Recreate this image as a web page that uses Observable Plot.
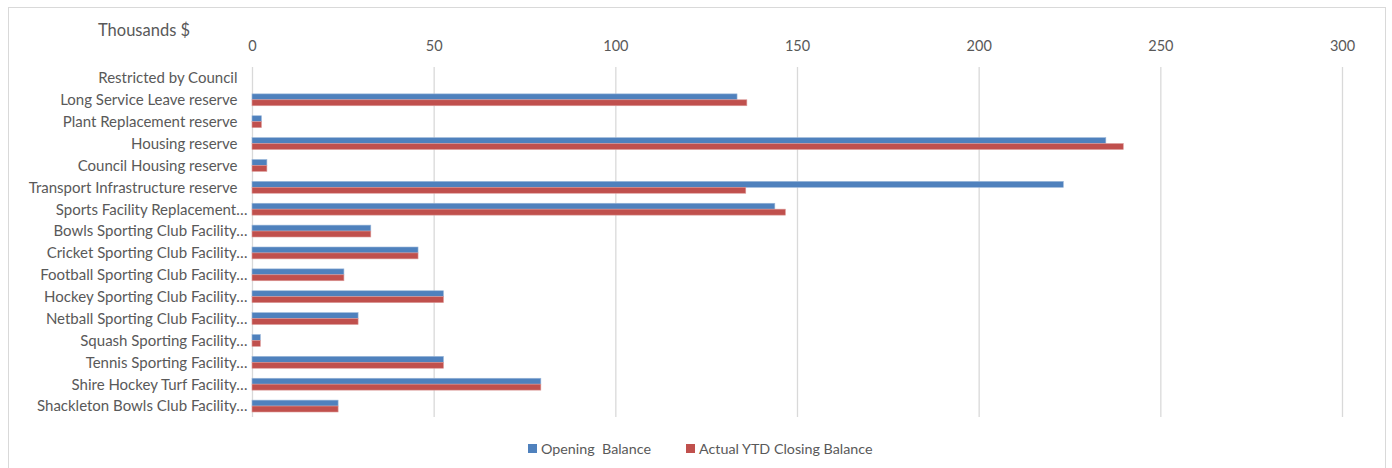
<!DOCTYPE html>
<html>
<head>
<meta charset="utf-8">
<script src="https://cdn.jsdelivr.net/npm/d3@7"></script>
<script src="https://cdn.jsdelivr.net/npm/@observablehq/plot@0.6"></script>
<style>
  html, body { margin: 0; padding: 0; background: #fff; }
  body { width: 1392px; height: 468px; position: relative; overflow: hidden; font-family: Lato, "Open Sans", sans-serif; }
  #frame { position: absolute; left: 8px; top: 7px; width: 1378px; height: 480px; border: 1px solid #d9d9d9; box-sizing: border-box; }
  #chart { position: absolute; left: 0; top: 0; }
  #unit { position: absolute; left: 98px; top: 20px; font-size: 16.5px; color: #595959; }
  #legend { position: absolute; top: 440px; left: 0; width: 1392px; font-size: 14.3px; color: #595959; white-space: pre; }
  .item { position: absolute; display: flex; align-items: center; }
  .sw { width: 9px; height: 9px; margin-right: 4px; }
</style>
</head>
<body>
<div id="frame"></div>
<div id="chart"></div>
<div id="unit">Thousands $</div>
<div id="legend"></div>
<script>
const categories = [
  "Restricted by Council",
  "Long Service Leave reserve",
  "Plant Replacement reserve",
  "Housing reserve",
  "Council Housing reserve",
  "Transport Infrastructure reserve",
  "Sports Facility Replacement…",
  "Bowls Sporting Club Facility…",
  "Cricket Sporting Club Facility…",
  "Football Sporting Club Facility…",
  "Hockey Sporting Club Facility…",
  "Netball Sporting Club Facility…",
  "Squash Sporting Facility…",
  "Tennis Sporting Facility…",
  "Shire Hockey Turf Facility…",
  "Shackleton Bowls Club Facility…"
];
const openingBalance = [null, 133.5, 2.6, 235.0, 4.1, 223.3, 143.9, 32.7, 45.7, 25.3, 52.7, 29.2, 2.3, 52.7, 79.5, 23.7];
const closingBalance = [null, 136.2, 2.6, 239.8, 4.1, 135.9, 146.8, 32.7, 45.7, 25.3, 52.7, 29.2, 2.3, 52.7, 79.5, 23.7];
const xTicks = [0, 50, 100, 150, 200, 250, 300];
const seriesNames = ["Opening  Balance", "Actual YTD Closing Balance"];
const seriesColors = ["#4f81bd", "#c0504d"];

const rows = categories.map((c, i) => ({cat: c, open: openingBalance[i], close: closingBalance[i]}));
const fullLabels = categories.filter(c => !c.endsWith("…"));
const cutLabels = categories.filter(c => c.endsWith("…"));

const chart = Plot.plot({
  width: 1392,
  height: 425,
  marginTop: 67,
  marginBottom: 8,
  marginLeft: 252,
  marginRight: 50,
  style: {fontFamily: "Lato, 'Open Sans', sans-serif", fontSize: "15px", color: "#595959", background: "transparent"},
  x: {domain: [0, 300], axis: null},
  y: {domain: categories, padding: 0, round: false, axis: null},
  marks: [
    Plot.ruleX(xTicks, {stroke: "#d9d9d9", strokeWidth: 1.3}),
    Plot.barX(rows.filter(d => d.open != null), {y: "cat", x: "open", fill: seriesColors[0], stroke: "#9bb7d9", strokeWidth: 0.6, insetTop: 5, insetBottom: 10.9}),
    Plot.barX(rows.filter(d => d.close != null), {y: "cat", x: "close", fill: seriesColors[1], stroke: "#dc9a98", strokeWidth: 0.6, insetTop: 10.9, insetBottom: 5}),
    Plot.axisX({anchor: "top", ticks: xTicks, tickSize: 0, tickPadding: 17, label: null, fill: "#595959", fontSize: 14.5}),
    Plot.axisY({anchor: "left", ticks: fullLabels, tickSize: 0, tickPadding: 15, label: null, fill: "#595959", fontSize: 15}),
    Plot.axisY({anchor: "left", ticks: cutLabels, tickSize: 0, tickPadding: 5, label: null, fill: "#595959", fontSize: 15})
  ]
});
document.getElementById("chart").appendChild(chart);

const legend = document.getElementById("legend");
const positions = [528, 686];
seriesNames.forEach((n, i) => {
  const it = document.createElement("div");
  it.className = "item";
  it.style.left = positions[i] + "px";
  const sw = document.createElement("div");
  sw.className = "sw";
  sw.style.background = seriesColors[i];
  const t = document.createElement("span");
  t.textContent = n;
  it.appendChild(sw);
  it.appendChild(t);
  legend.appendChild(it);
});
</script>
</body>
</html>
